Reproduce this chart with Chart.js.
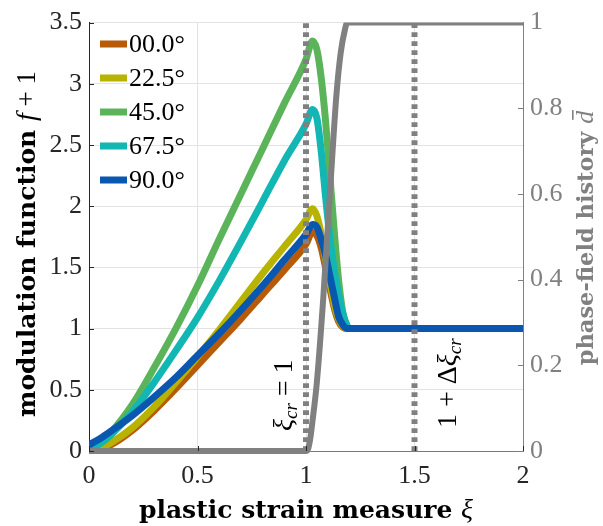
<!DOCTYPE html>
<html>
<head>
<meta charset="utf-8">
<script src="https://cdn.jsdelivr.net/npm/chart.js@4.4.1/dist/chart.umd.min.js"></script>
<style>
    html, body { margin: 0; padding: 0; background: #fff; }
    canvas { display: block; }
</style>
</head>
<body>
<canvas id="grafico" width="603" height="526"></canvas>
<script>
// Medida de deformación plástica (eje x) común a las cinco orientaciones
const xi = [0, 0.05, 0.1, 0.2, 0.3, 0.4, 0.5, 0.6, 0.7, 0.8, 0.9, 1.0, 1.03,
    1.05, 1.07, 1.09, 1.11, 1.13, 1.15, 1.17, 1.19, 1.2, 2.0]

// Función de modulación f + 1 para cada orientación
const f00 = [0.00, 0.015, 0.05, 0.17, 0.33, 0.51, 0.70, 0.89, 1.08, 1.28, 1.48, 1.69, 1.79,
    1.76, 1.66, 1.50, 1.33, 1.17, 1.06, 1.01, 1.00, 1.00, 1.00]
const f225 = [0.00, 0.02, 0.065, 0.19, 0.36, 0.56, 0.77, 0.99, 1.22, 1.45, 1.67, 1.89, 1.98,
    1.92, 1.77, 1.57, 1.38, 1.20, 1.08, 1.02, 1.00, 1.00, 1.00]
const f45 = [0.03, 0.07, 0.15, 0.38, 0.68, 1.00, 1.35, 1.73, 2.10, 2.47, 2.84, 3.20, 3.35,
    3.28, 3.05, 2.70, 2.25, 1.80, 1.40, 1.13, 1.02, 1.00, 1.00]
const f675 = [0.02, 0.06, 0.13, 0.32, 0.56, 0.82, 1.09, 1.39, 1.71, 2.04, 2.37, 2.67, 2.79,
    2.72, 2.45, 2.08, 1.75, 1.48, 1.28, 1.12, 1.02, 1.00, 1.00]
const f90 = [0.05, 0.10, 0.16, 0.29, 0.44, 0.60, 0.78, 0.96, 1.15, 1.35, 1.56, 1.77, 1.85,
    1.83, 1.73, 1.60, 1.43, 1.26, 1.10, 1.03, 1.00, 1.00, 1.00]

// Historia del campo de fase (eje derecho)
const xiFase = [0, 1.0, 1.01, 1.02, 1.03, 1.05, 1.08, 1.10, 1.12, 1.14, 1.16, 1.18, 1.19, 2.0]
const dFase = [0, 0, 0.005, 0.03, 0.07, 0.16, 0.36, 0.52, 0.68, 0.83, 0.93, 0.985, 1, 1]

// Líneas verticales: xi crítico y 1 + delta xi
const xiCritico = 1
const xiFinal = 1.5

const etiquetas = ['00.0°', '22.5°', '45.0°', '67.5°', '90.0°']
const colores = ['#b85b08', '#b7b300', '#5cb45a', '#12b6b2', '#0a57b0']
const series = [f00, f225, f45, f675, f90]

const ticksX = [0, 0.5, 1, 1.5, 2]
const ticksF = [0, 0.5, 1, 1.5, 2, 2.5, 3, 3.5]
const ticksD = [0, 0.2, 0.4, 0.6, 0.8, 1]

const GRIS = '#808080'
const SERIF = '"Liberation Serif", "DejaVu Serif", serif'
const SERIF_ANCHA = '"DejaVu Serif", serif'

const puntos = (xs, ys) => xs.map((x, i) => ({ x: x, y: ys[i] }))

// Las curvas de color se dibujan debajo (order alto = más abajo)
const datasets = series.map((s, i) => ({
    label: etiquetas[i],
    data: puntos(xi, s),
    borderColor: colores[i],
    borderWidth: 7,
    pointRadius: 0,
    cubicInterpolationMode: 'monotone',
    yAxisID: 'y',
    order: 10 - i
}))

datasets.push({
    label: 'd',
    data: puntos(xiFase, dFase),
    borderColor: GRIS,
    borderWidth: 6,
    pointRadius: 0,
    cubicInterpolationMode: 'monotone',
    yAxisID: 'y2',
    clip: { left: 5, top: 0, right: 5, bottom: 5 },
    order: 2
})

const verticales = [xiCritico, xiFinal]
verticales.forEach((v, i) => {
    datasets.push({
        label: 'v' + i,
        data: [{ x: v, y: 0 }, { x: v, y: 3.5 }],
        borderColor: GRIS,
        borderWidth: 6,
        borderDash: [4.7, 4.3],
        borderCapStyle: 'butt',
        pointRadius: 0,
        yAxisID: 'y',
        order: 1 - i
    })
})

// Texto con partes de distinta fuente (negrita, cursiva, subíndices)
function textoCompuesto(ctx, partes, x, y, angulo, alineacion, color) {
    ctx.save()
    ctx.translate(x, y)
    ctx.rotate(angulo)
    ctx.fillStyle = color
    ctx.textBaseline = 'alphabetic'
    ctx.textAlign = 'left'
    let ancho = 0
    partes.forEach(p => { ctx.font = p.font; ancho += ctx.measureText(p.t).width })
    let cx = alineacion === 'center' ? -ancho / 2 : 0
    partes.forEach(p => {
        ctx.font = p.font
        ctx.fillText(p.t, cx, p.dy || 0)
        const w = ctx.measureText(p.t).width
        if (p.barra) {
            ctx.fillRect(cx + w * 0.3, p.barra, w * 0.75, 1.6)
        }
        cx += w
    })
    ctx.restore()
}

// Marcas de los ejes hacia dentro, leyenda y rótulos
const decoracion = {
    id: 'decoracion',
    afterDatasetsDraw(chart) {
        const ctx = chart.ctx
        const area = chart.chartArea
        const sx = chart.scales.x
        const sy = chart.scales.y
        const sd = chart.scales.y2
        const largo = 5

        ctx.save()
        ctx.lineWidth = 1
        ctx.strokeStyle = '#262626'
        ticksF.forEach(v => {
            const py = Math.round(sy.getPixelForValue(v)) + 0.5
            ctx.beginPath(); ctx.moveTo(area.left, py); ctx.lineTo(area.left + largo, py); ctx.stroke()
        })
        ticksX.forEach(v => {
            const px = Math.round(sx.getPixelForValue(v)) + 0.5
            ctx.beginPath(); ctx.moveTo(px, area.bottom); ctx.lineTo(px, area.bottom - largo); ctx.stroke()
        })
        ctx.strokeStyle = GRIS
        ticksD.forEach(v => {
            const py = Math.round(sd.getPixelForValue(v)) + 0.5
            ctx.beginPath(); ctx.moveTo(area.right, py); ctx.lineTo(area.right - largo, py); ctx.stroke()
        })
        ctx.restore()

        // Leyenda
        ctx.save()
        ctx.font = '26px ' + SERIF
        ctx.textBaseline = 'middle'
        ctx.textAlign = 'left'
        etiquetas.forEach((et, i) => {
            const py = 44 + i * 34
            ctx.fillStyle = colores[i]
            ctx.fillRect(100, py - 3.5, 27, 7)
            ctx.fillStyle = '#000'
            ctx.fillText(et, 129, py + 1)
        })
        ctx.restore()

        const it = 'italic 28px ' + SERIF
        const sub = 'italic 19px ' + SERIF
        const rg = '28px ' + SERIF
        const arriba = -Math.PI / 2

        textoCompuesto(ctx, [
            { t: 'ξ', font: it },
            { t: 'cr', font: sub, dy: 5 },
            { t: ' = 1', font: rg }
        ], sx.getPixelForValue(xiCritico) - 14, 431, arriba, 'left', '#000')

        textoCompuesto(ctx, [
            { t: '1 + Δ', font: rg },
            { t: 'ξ', font: it },
            { t: 'cr', font: sub, dy: 5 }
        ], sx.getPixelForValue(xiFinal) + 41, 428, arriba, 'left', '#000')

        // Rótulos de los ejes
        const bold = 'bold 25px ' + SERIF_ANCHA
        const itT = 'italic 28px ' + SERIF
        const rgT = '27px ' + SERIF

        textoCompuesto(ctx, [
            { t: 'plastic strain measure ', font: bold },
            { t: 'ξ', font: itT }
        ], (area.left + area.right) / 2, 518, 0, 'center', '#000')

        textoCompuesto(ctx, [
            { t: 'modulation function ', font: bold },
            { t: 'f', font: itT },
            { t: ' + 1', font: rgT }
        ], 35, 244, arriba, 'center', '#000')

        textoCompuesto(ctx, [
            { t: 'phase-field history ', font: 'bold 22.5px ' + SERIF_ANCHA },
            { t: 'd', font: 'italic 26px ' + SERIF, barra: -21 }
        ], 593, 238, arriba, 'center', GRIS)
    }
}

const fuenteTicks = { family: SERIF, size: 26 }

new Chart(document.getElementById('grafico'), {
    type: 'line',
    data: { datasets: datasets },
    options: {
        responsive: false,
        animation: false,
        layout: { padding: { top: 19, left: 0, right: 0, bottom: 0 } },
        plugins: { legend: { display: false }, tooltip: { enabled: false } },
        scales: {
            x: {
                type: 'linear', position: 'bottom', min: 0, max: 2,
                afterBuildTicks: s => { s.ticks = ticksX.map(v => ({ value: v })) },
                afterFit: s => { s.height = 75 },
                grid: { color: '#e3e3e3', drawTicks: false },
                border: { color: '#7a7a7a' },
                ticks: { font: fuenteTicks, color: '#262626', padding: 10, maxRotation: 0, callback: v => String(v) }
            },
            y: {
                type: 'linear', position: 'left', min: 0, max: 3.5,
                afterBuildTicks: s => { s.ticks = ticksF.map(v => ({ value: v })) },
                afterFit: s => { s.width = 89 },
                grid: { color: '#e3e3e3', drawTicks: false },
                border: { color: '#262626' },
                ticks: { font: fuenteTicks, color: '#262626', padding: 7, callback: v => String(v) }
            },
            y2: {
                type: 'linear', position: 'right', min: 0, max: 1,
                afterBuildTicks: s => { s.ticks = ticksD.map(v => ({ value: v })) },
                afterFit: s => { s.width = 80 },
                grid: { display: false, drawTicks: false },
                border: { color: GRIS },
                ticks: { font: fuenteTicks, color: GRIS, padding: 7, callback: v => String(v) }
            }
        }
    },
    plugins: [decoracion]
})
</script>
</body>
</html>
